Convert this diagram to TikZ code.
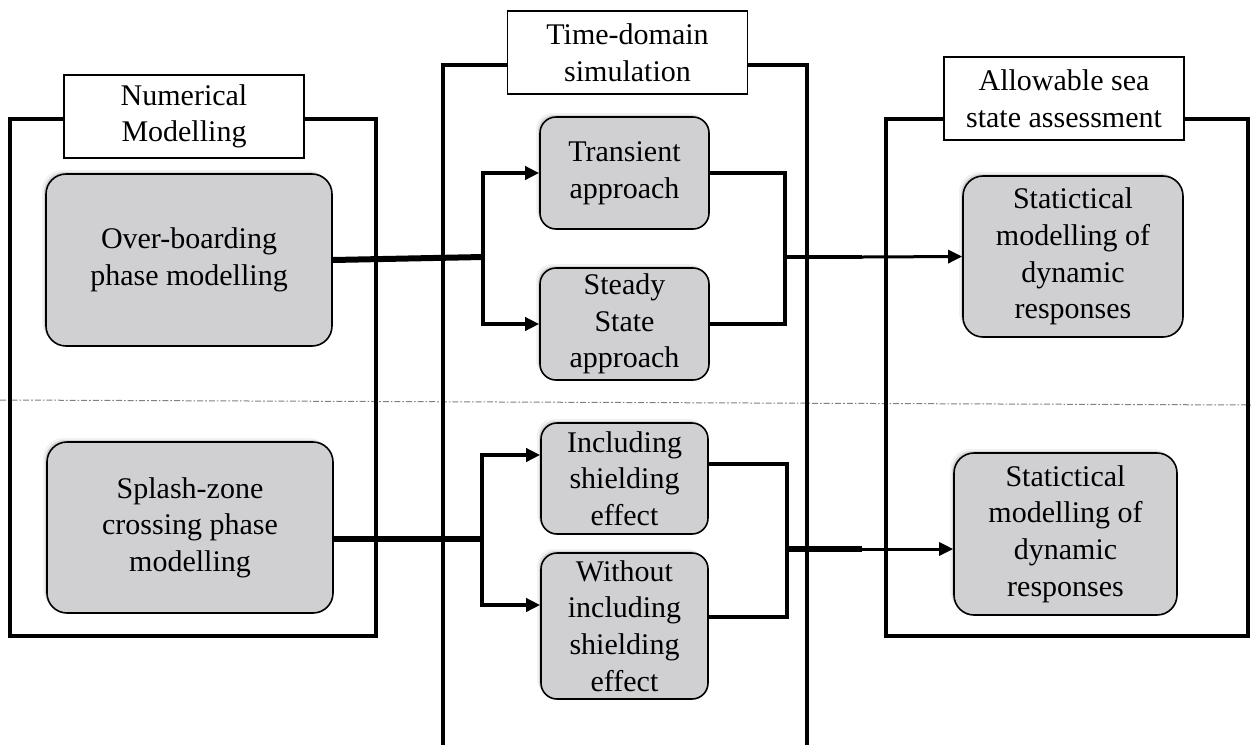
\documentclass[tikz,border=0pt]{standalone}
\usepackage{fontspec}
\setmainfont{Liberation Serif}
\usetikzlibrary{arrows.meta,shadows}
\definecolor{boxgray}{RGB}{208,207,210}
\newcommand\dfont{\fontsize{15}{18.3}\selectfont}
\begin{document}
\begin{tikzpicture}[x=0.5pt,y=-0.5pt,
  frame/.style={line width=2pt, line join=miter},
  lbl/.style={draw, line width=0.7pt, fill=white, align=center, inner sep=0pt, font=\dfont, minimum width=120pt, minimum height=41.5pt},
  rbox/.style={draw, line width=0.8pt, fill=boxgray, rounded corners=9pt, align=center, inner sep=1pt, font=\dfont,
     drop shadow={shadow xshift=-1pt, shadow yshift=1pt, opacity=0.25},
     drop shadow={shadow xshift=-2pt, shadow yshift=2pt, opacity=0.1}},
  conn/.style={line width=2pt},
  tip/.style={-{Triangle[length=7pt,width=6.5pt]}}
]
\useasboundingbox (0,0) rectangle (1252,745);
% separator
\draw[gray, line width=0.5pt, dash pattern=on 3pt off 1pt on 0.8pt off 1pt] (0,400) -- (1252,405);
% frames
\draw[frame] (10,119) rectangle (376,636);
\draw[frame] (886,119) rectangle (1248,636);
\draw[frame] (443,745) -- (443,65) -- (807,65) -- (807,745);
% labels
\node[lbl] (lNum) at (184,116.5) {Numerical\\Modelling};
\node[lbl] (lTime) at (627.5,52.5) {Time-domain\\simulation};
\node[lbl] (lAll) at (1064,98.5) {Allowable sea\\state assessment};
% boxes
\node[rbox, minimum width=143pt, minimum height=86pt, rounded corners=10pt] (OB) at (189,260) {Over-boarding\\phase modelling};
\node[rbox, minimum width=143pt, minimum height=85.5pt, rounded corners=10pt] (Sp) at (190,527.5) {Splash-zone\\crossing phase\\modelling};
\node[rbox, minimum width=84.5pt, minimum height=56pt, rounded corners=8pt] (Tr) at (624.5,173) {Transient\\approach};
\node[rbox, minimum width=84.5pt, minimum height=56pt, rounded corners=8pt] (St) at (624.5,324) {Steady\\State\\approach};
\node[rbox, minimum width=83.5pt, minimum height=55.5pt, rounded corners=8pt] (In) at (624.5,478.5) {Including\\shielding\\effect};
\node[rbox, minimum width=83.5pt, minimum height=73pt, rounded corners=8pt] (Wo) at (624.5,626) {Without\\including\\shielding\\effect};
\node[rbox, minimum width=110pt, minimum height=80.5pt, rounded corners=10pt] (S1) at (1073,256.5) {Statictical\\modelling of\\dynamic\\responses};
\node[rbox, minimum width=111.5pt, minimum height=81pt, rounded corners=10pt] (S2) at (1065.5,534) {Statictical\\modelling of\\dynamic\\responses};
% upper connectors
\coordinate (j1) at (483,257);
\draw[line width=3pt] (OB.east) -- (j1);
\draw[conn,tip] (j1) |- (Tr.west);
\draw[conn,tip] (j1) |- (St.west);
\coordinate (j2) at (785,257);
\draw[conn] (Tr.east) -| (j2);
\draw[conn] (St.east) -| (j2);
\coordinate (k1) at (862,257);
\draw[line width=2.2pt] (j2) -- (k1);
\draw[line width=1.5pt,tip] (k1) -- (S1.west);
% lower connectors
\coordinate (j3) at (482,539);
\draw[line width=3pt] (Sp.east |- j3) -- (j3);
\draw[conn,tip] (j3) |- ([yshift=11.75pt]In.west);
\draw[conn,tip] (j3) |- ([yshift=10.5pt]Wo.west);
\coordinate (j4) at (787,549);
\draw[conn] ([yshift=7.25pt]In.east) -| (j4);
\draw[conn] ([yshift=4.5pt]Wo.east) -| (j4);
\coordinate (k2) at (862,549);
\draw[line width=2.6pt] (j4) -- (k2);
\draw[line width=1.5pt,tip] (k2) -- ([yshift=-7.5pt]S2.west);
\end{tikzpicture}
\end{document}
